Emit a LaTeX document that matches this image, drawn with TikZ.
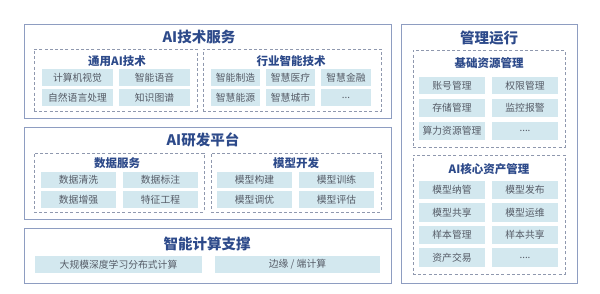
\documentclass[tikz,border=0pt]{standalone}
\usepackage{fontspec}
\setmainfont{Noto Sans CJK SC}
\usetikzlibrary{fit}
\definecolor{outerc}{HTML}{8E9DC1}
\definecolor{dashc}{HTML}{8F98AE}
\definecolor{cellc}{HTML}{D3E8EF}
\definecolor{celltxt}{HTML}{555B66}
\definecolor{titlec}{HTML}{2D4A8A}
\tikzset{
  outerbox/.style={draw=outerc, line width=0.9pt, inner sep=0pt},
  dashbox/.style={draw=dashc, line width=0.8pt, dash pattern=on 3pt off 2.2pt, inner sep=0pt},
  cellbox/.style={fill=cellc, inner sep=0pt},
  celltext/.style={text=celltxt, inner sep=0pt, font=\fontsize{9.8}{10}\selectfont},
  maintitle/.style={text=titlec, font=\fontsize{14.5}{15}\selectfont\bfseries, inner sep=0pt},
  subtitle/.style={text=titlec, font=\fontsize{11.5}{12}\selectfont\bfseries, inner sep=0pt},
}
\newcommand\mycell[6]{\node[cellbox, fit={(#2,#3) (#4,#5)}] (#1) {};
  \node[celltext] (#1t) at (#1.center) {#6};}
\begin{document}
\begin{tikzpicture}[x=1pt,y=-1pt]
\useasboundingbox (0,0) rectangle (600,294);
% AI技术服务
\node[outerbox, fit={(24,24) (391,118)}] (A) {};
\node[maintitle] (At) at (199,37) {AI技术服务};
\node[dashbox, fit={(34,49) (197,111)}] (A1) {};
\node[subtitle] (A1t) at (117,61) {通用AI技术};
\mycell{a11}{42}{69}{113}{86}{计算机视觉}
\mycell{a12}{119}{69}{190}{86}{智能语音}
\mycell{a13}{42}{89}{113}{106}{自然语言处理}
\mycell{a14}{119}{89}{190}{106}{知识图谱}
\node[dashbox, fit={(203,49) (381,111)}] (A2) {};
\node[subtitle] (A2t) at (291,61) {行业智能技术};
\mycell{a21}{211}{69}{260}{86}{智能制造}
\mycell{a22}{266}{69}{315}{86}{智慧医疗}
\mycell{a23}{321}{69}{371}{86}{智慧金融}
\mycell{a24}{211}{89}{260}{106}{智慧能源}
\mycell{a25}{266}{89}{315}{106}{智慧城市}
\mycell{a26}{321}{89}{371}{106}{...}
% AI研发平台
\node[outerbox, fit={(24,127) (391,219)}] (B) {};
\node[maintitle] (Bt) at (203,140) {AI研发平台};
\node[dashbox, fit={(34,153) (204,212)}] (B1) {};
\node[subtitle] (B1t) at (117,163) {数据服务};
\mycell{b11}{41}{172}{116}{188}{数据清洗}
\mycell{b12}{123}{172}{198}{188}{数据标注}
\mycell{b13}{41}{191}{116}{208}{数据增强}
\mycell{b14}{123}{191}{198}{208}{特征工程}
\node[dashbox, fit={(211,153) (381,212)}] (B2) {};
\node[subtitle] (B2t) at (296,163) {模型开发};
\mycell{b21}{217}{172}{292}{188}{模型构建}
\mycell{b22}{299}{172}{374}{188}{模型训练}
\mycell{b23}{217}{191}{292}{208}{模型调优}
\mycell{b24}{299}{191}{374}{208}{模型评估}
% 智能计算支撑
\node[outerbox, fit={(24,228) (391,283)}] (C) {};
\node[maintitle] (Ct) at (207,244) {智能计算支撑};
\mycell{c1}{35}{256}{202}{273}{大规模深度学习分布式计算}
\mycell{c2}{215}{256}{380}{273}{边缘 / 端计算}
% 管理运行
\node[outerbox, fit={(401,24) (577,283)}] (D) {};
\node[maintitle] (Dt) at (489,38) {管理运行};
\node[dashbox, fit={(413,50) (565,147)}] (D1) {};
\node[subtitle] (D1t) at (489,63) {基础资源管理};
\mycell{d11}{419}{77}{485}{94}{账号管理}
\mycell{d12}{492}{77}{558}{94}{权限管理}
\mycell{d13}{419}{99}{485}{117}{存储管理}
\mycell{d14}{492}{99}{558}{117}{监控报警}
\mycell{d15}{419}{122}{485}{140}{算力资源管理}
\mycell{d16}{492}{122}{558}{140}{....}
\node[dashbox, fit={(413,155) (565,274)}] (D2) {};
\node[subtitle] (D2t) at (489,169) {AI核心资产管理};
\mycell{d21}{419}{181}{485}{199}{模型纳管}
\mycell{d22}{492}{181}{558}{199}{模型发布}
\mycell{d23}{419}{203}{485}{222}{模型共享}
\mycell{d24}{492}{203}{558}{222}{模型运维}
\mycell{d25}{419}{226}{485}{244}{样本管理}
\mycell{d26}{492}{226}{558}{244}{样本共享}
\mycell{d27}{419}{248}{485}{267}{资产交易}
\mycell{d28}{492}{248}{558}{267}{....}
\end{tikzpicture}
\end{document}
